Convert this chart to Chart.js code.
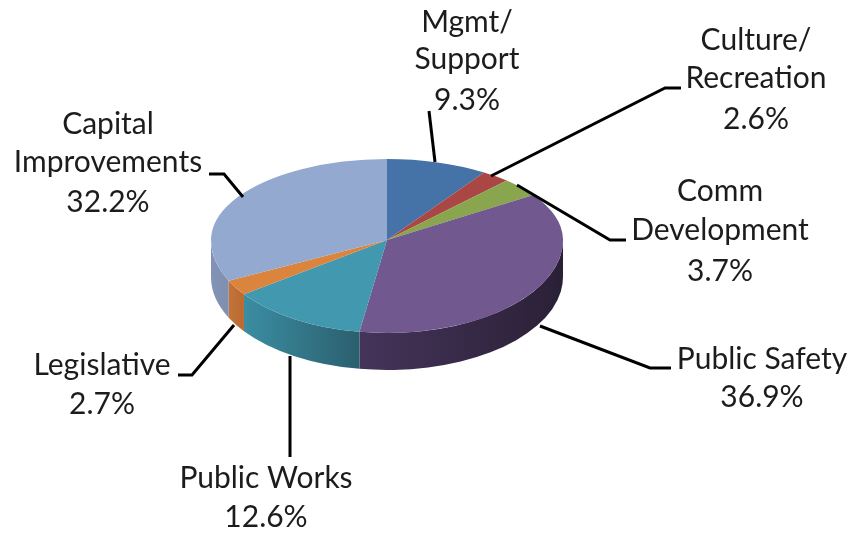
<!DOCTYPE html>
<html>
<head>
<meta charset="utf-8">
<title>Budget by function</title>
<script src="https://cdn.jsdelivr.net/npm/chart.js@4/dist/chart.umd.min.js"></script>
<style>
    html, body { margin: 0; padding: 0; background: #fff; }
    canvas { display: block; }
</style>
</head>
<body>
<canvas id="pieChart" width="851" height="533"></canvas>
<script>
const categories = ['Mgmt/\nSupport', 'Culture/\nRecreation', 'Comm\nDevelopment', 'Public Safety', 'Public Works', 'Legislative', 'Capital\nImprovements'];
const shares = [9.3, 2.6, 3.7, 36.9, 12.6, 2.7, 32.2];

const sliceColors = ['#4572A7', '#AA4643', '#89A54E', '#71588F', '#4198AF', '#DB843D', '#93A9CF'];
const wallColors = [
    ['#34567f', '#34567f'],
    ['#803432', '#803432'],
    ['#677c3a', '#677c3a'],
    ['#45345a', '#2a2036'],
    ['#3b8da2', '#2b5f6e'],
    ['#c4743a', '#b96a2f'],
    ['#8393b5', '#7f8fb0']
];

// label centre x and the baseline of each text line
const labelAnchors = [
    { x: 467, y: [32, 69, 110] },
    { x: 756, y: [50, 88, 129] },
    { x: 720, y: [201, 240, 281] },
    { x: 762, y: [369, 407] },
    { x: 266, y: [488, 527] },
    { x: 102, y: [375, 414] },
    { x: 108, y: [134, 172, 212] }
];
const leaderPaths = [
    [[429, 111], [435, 162]],
    [[681, 88], [665, 88], [491, 176]],
    [[626, 240], [610, 240], [517, 185]],
    [[671, 368], [650, 368], [540, 326]],
    [[290, 356], [290, 457]],
    [[234, 325], [192, 375], [178, 375]],
    [[243, 197], [224, 174], [209, 174]]
];

// the pie is tilted: back half flatter than the front half
const tilt = { back: 81 / 176, front: 93 / 176, depth: 37 };

function drawWalls(ctx, arcs) {
    arcs.forEach((arc, i) => {
        const start = Math.max(arc.startAngle, 0);
        const end = Math.min(arc.endAngle, Math.PI);
        if (end <= start) return;
        const rx = arc.outerRadius;
        const ry = rx * tilt.front;
        const left = arc.x + rx * Math.cos(end);
        const right = arc.x + rx * Math.cos(start);
        const fill = ctx.createLinearGradient(left, 0, right, 0);
        fill.addColorStop(0, wallColors[i][0]);
        fill.addColorStop(1, wallColors[i][1]);
        ctx.beginPath();
        ctx.ellipse(arc.x, arc.y, rx, ry, 0, start, end);
        ctx.ellipse(arc.x, arc.y + tilt.depth, rx, ry, 0, end, start, true);
        ctx.closePath();
        ctx.fillStyle = fill;
        ctx.fill();
    });
}

function drawFace(ctx, chart, arcs, scaleY, clipTop, clipHeight) {
    const cx = arcs[0].x;
    const cy = arcs[0].y;
    ctx.save();
    ctx.beginPath();
    ctx.rect(0, clipTop, chart.width, clipHeight);
    ctx.clip();
    ctx.translate(cx, cy);
    ctx.scale(1, scaleY);
    ctx.translate(-cx, -cy);
    arcs.forEach(arc => arc.draw(ctx));
    ctx.restore();
}

const tiltedPie = {
    id: 'tiltedPie',
    beforeDatasetsDraw(chart) {
        const ctx = chart.ctx;
        const arcs = chart.getDatasetMeta(0).data;
        const cy = arcs[0].y;
        drawWalls(ctx, arcs);
        drawFace(ctx, chart, arcs, tilt.back, 0, cy + 0.5);
        drawFace(ctx, chart, arcs, tilt.front, cy, chart.height - cy);
        return false;
    }
};

const calloutLabels = {
    id: 'calloutLabels',
    afterDraw(chart) {
        const ctx = chart.ctx;
        ctx.save();
        ctx.strokeStyle = '#000';
        ctx.lineWidth = 3;
        ctx.lineJoin = 'miter';
        leaderPaths.forEach(path => {
            ctx.beginPath();
            path.forEach(([x, y], i) => i ? ctx.lineTo(x, y) : ctx.moveTo(x, y));
            ctx.stroke();
        });
        ctx.fillStyle = '#1c1c1c';
        ctx.font = '30px Lato';
        ctx.textAlign = 'center';
        ctx.textBaseline = 'alphabetic';
        categories.forEach((name, i) => {
            const lines = name.split('\n').concat(shares[i].toFixed(1) + '%');
            lines.forEach((line, j) => ctx.fillText(line, labelAnchors[i].x, labelAnchors[i].y[j]));
        });
        ctx.restore();
    }
};

new Chart(document.getElementById('pieChart').getContext('2d'), {
    type: 'pie',
    data: {
        labels: categories,
        datasets: [{
            data: shares,
            backgroundColor: sliceColors,
            borderWidth: 0
        }]
    },
    options: {
        responsive: false,
        animation: false,
        events: [],
        layout: { padding: { left: 211, right: 288, top: 64, bottom: 117 } },
        plugins: {
            legend: { display: false },
            tooltip: { enabled: false },
            title: { display: false }
        }
    },
    plugins: [tiltedPie, calloutLabels]
});
</script>
</body>
</html>
